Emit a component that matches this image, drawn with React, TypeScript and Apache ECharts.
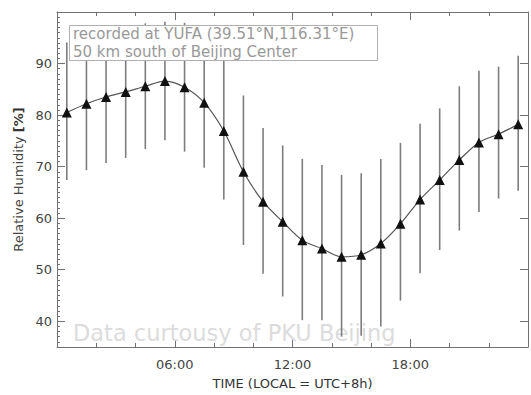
import React, { useEffect, useRef } from "react";
import * as echarts from "echarts";

const hours = [0.5, 1.5, 2.5, 3.5, 4.5, 5.5, 6.5, 7.5, 8.5, 9.5, 10.5, 11.5, 12.5, 13.5, 14.5, 15.5, 16.5, 17.5, 18.5, 19.5, 20.5, 21.5, 22.5, 23.5];
const meanRH = [80.5, 82.2, 83.5, 84.5, 85.6, 86.6, 85.4, 82.4, 76.9, 69.0, 63.2, 59.3, 55.7, 54.1, 52.5, 52.9, 55.1, 58.9, 63.6, 67.4, 71.3, 74.7, 76.3, 78.2];
const lowRH = [67.4, 69.3, 70.7, 71.7, 73.4, 75.1, 72.9, 69.8, 63.6, 54.8, 49.2, 44.8, 40.2, 40.2, 37.0, 37.2, 39.0, 44.0, 49.3, 53.8, 57.6, 61.2, 63.8, 65.3];
const highRH = [94.1, 95.1, 96.3, 97.3, 97.8, 98.1, 97.9, 95.0, 91.5, 83.8, 77.5, 74.1, 71.5, 70.3, 68.4, 68.7, 71.5, 74.6, 78.3, 81.3, 85.6, 88.6, 89.4, 91.5];
const yMajorTicks = [40, 50, 60, 70, 80, 90, 100];
const yLabels = [40, 50, 60, 70, 80, 90];
const xLabels: Record<number, string> = { 6: "06:00", 12: "12:00", 18: "18:00" };

const FONT = "DejaVu Sans";
const AXIS = "#707070";

export default function App() {
  const ref = useRef<HTMLDivElement>(null);
  useEffect(() => {
    if (!ref.current) return;
    const chart = echarts.init(ref.current, undefined, { renderer: "svg" });
    const lineData = hours.map((h, i) => [h, meanRH[i]]);
    const errData = hours.map((h, i) => [h, lowRH[i], highRH[i]]);
    const baseX = {
      type: "value",
      min: 0,
      max: 24,
      interval: 6,
      axisLine: { show: true, lineStyle: { color: AXIS, width: 1 } },
      axisTick: { show: true, inside: true, length: 8, lineStyle: { color: AXIS } },
      minorTick: { show: true, splitNumber: 3, length: 4, lineStyle: { color: AXIS } },
      splitLine: { show: false },
    };
    chart.setOption({
      animation: false,
      backgroundColor: "#fff",
      grid: { left: 57, top: 12, right: -5, bottom: 42, containLabel: false },
      xAxis: [
        {
          ...baseX,
          position: "bottom",
          name: "TIME (LOCAL = UTC+8h)",
          nameLocation: "middle",
          nameGap: 30,
          nameTextStyle: { fontFamily: FONT, fontSize: 13, color: "#333" },
          axisLabel: {
            show: true,
            margin: 11,
            fontFamily: FONT,
            fontSize: 13,
            color: "#444",
            formatter: (v: number) => xLabels[v] || "",
          },
        },
        { ...baseX, position: "top", axisLabel: { show: false } },
      ],
      yAxis: [
        {
          type: "value",
          position: "left",
          min: 35,
          max: 100,
          interval: 5,
          name: "Relative Humidity {b|[%]}",
          nameLocation: "middle",
          nameGap: 32,
          nameRotate: 90,
          nameTextStyle: {
            fontFamily: FONT,
            fontSize: 13,
            color: "#444",
            rich: { b: { fontFamily: FONT, fontSize: 13, fontWeight: "bold", color: "#333" } },
          },
          axisLine: { show: true, lineStyle: { color: AXIS, width: 1 } },
          axisTick: { show: true, inside: true, length: 8, customValues: yMajorTicks, lineStyle: { color: AXIS } },
          axisLabel: { show: true, customValues: yLabels, margin: 5, fontFamily: FONT, fontSize: 13, color: "#444" },
          splitLine: { show: false },
        },
        {
          type: "value",
          position: "left",
          min: 35,
          max: 100,
          interval: 1,
          axisLine: { show: false },
          axisTick: { show: true, inside: true, length: 3, lineStyle: { color: AXIS } },
          axisLabel: { show: false },
          splitLine: { show: false },
        },
        {
          type: "value",
          position: "right",
          min: 35,
          max: 100,
          interval: 5,
          axisLine: { show: true, lineStyle: { color: AXIS, width: 1 } },
          axisTick: { show: true, inside: true, length: 8, customValues: yMajorTicks, lineStyle: { color: AXIS } },
          axisLabel: { show: false },
          splitLine: { show: false },
        },
      ],
      series: [
        {
          type: "custom",
          xAxisIndex: 0,
          yAxisIndex: 0,
          z: 2,
          encode: { x: 0, y: [1, 2] },
          data: errData,
          renderItem: (params: any, api: any) => {
            const x = api.value(0);
            const p1 = api.coord([x, api.value(1)]);
            const p2 = api.coord([x, api.value(2)]);
            return {
              type: "line",
              shape: { x1: p1[0], y1: p1[1], x2: p2[0], y2: p2[1] },
              style: { stroke: "#7d7d7d", lineWidth: 1.6 },
            };
          },
        },
        {
          type: "line",
          xAxisIndex: 0,
          yAxisIndex: 0,
          z: 3,
          data: lineData,
          smooth: 0.3,
          symbol: "triangle",
          symbolSize: 10,
          itemStyle: { color: "#111" },
          lineStyle: { color: "#555", width: 1.2 },
        },
      ],
      graphic: [
        {
          type: "text",
          left: 73,
          top: 321,
          z: 1,
          silent: true,
          style: { text: "Data curtousy of PKU Beijing", fill: "#dcdcdc", font: `22.5px "${FONT}"` },
        },
        {
          type: "rect",
          z: 100,
          shape: { x: 69.5, y: 25.5, width: 308, height: 35 },
          style: { fill: "#fff", stroke: "#b0b0b0", lineWidth: 1 },
        },
        {
          type: "text",
          z: 101,
          x: 73,
          y: 34,
          style: { text: "recorded at YUFA (39.51°N,116.31°E)", fill: "#999", font: `15px "${FONT}"`, verticalAlign: "middle" },
        },
        {
          type: "text",
          z: 101,
          x: 73,
          y: 51.5,
          style: { text: "50 km south of Beijing Center", fill: "#999", font: `15px "${FONT}"`, verticalAlign: "middle" },
        },
      ],
    });
    return () => chart.dispose();
  }, []);
  return <div ref={ref} style={{ position: "fixed", left: 0, top: 0, width: 531, height: 395 }} />;
}
